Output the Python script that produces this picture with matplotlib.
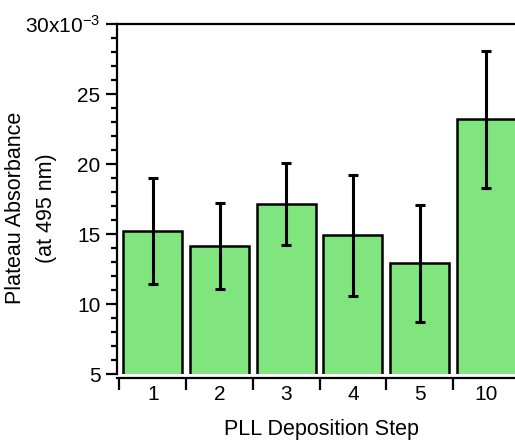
import matplotlib
matplotlib.use("Agg")
import matplotlib.pyplot as plt
import numpy as np
from matplotlib.ticker import FixedLocator, MultipleLocator

plt.rcParams['font.family'] = ['Liberation Sans', 'DejaVu Sans']
plt.rcParams['mathtext.fontset'] = 'custom'
plt.rcParams['mathtext.rm'] = 'Liberation Sans'
plt.rcParams['mathtext.it'] = 'Liberation Sans'

categories = ["1", "2", "3", "4", "5", "10"]
values = [15.2, 14.15, 17.15, 14.9, 12.9, 23.2]      # x10^-3
errors = [3.8, 3.1, 2.95, 4.3, 4.2, 4.9]             # x10^-3
ytick_vals = [5, 10, 15, 20, 25, 30]
ytick_labels = ["5", "10", "15", "20", "25", "30x10$^{-3}$"]

W, H = 515, 441
fig = plt.figure(figsize=(W/100, H/100), dpi=100)
left_px, right_px, top_px, bot_px = 117, 519.7, 24, 374
ax = fig.add_axes([left_px/W, 1 - bot_px/H, (right_px-left_px)/W, (bot_px-top_px)/H])

x = np.arange(len(categories))
ax.bar(x, values, width=0.885, color="#80E57F", edgecolor="black", linewidth=1.8, zorder=2)
ax.errorbar(x, values, yerr=errors, fmt="none", ecolor="black", elinewidth=2.2,
            capsize=3.8, capthick=2.2, zorder=3)

ax.set_xlim(-0.537, 5.5)
ax.set_ylim(5, 30)

ax.xaxis.set_major_locator(FixedLocator(np.arange(-0.5, 6.0, 1.0)))
ax.xaxis.set_minor_locator(FixedLocator(x))
ax.set_xticklabels([])
ax.set_xticklabels(categories, minor=True)
ax.tick_params(axis="x", which="major", direction="out", length=8.5, width=1.6)
ax.tick_params(axis="x", which="minor", length=0, pad=5, labelsize=15)

ax.yaxis.set_major_locator(FixedLocator(ytick_vals))
ax.set_yticklabels(ytick_labels)
ax.yaxis.set_minor_locator(MultipleLocator(1))
ax.tick_params(axis="y", which="major", direction="out", length=8, width=1.6, labelsize=15, pad=4)
ax.tick_params(axis="y", which="minor", direction="out", length=4.3, width=1.6)

for s in ["left", "bottom", "top", "right"]:
    ax.spines[s].set_linewidth(1.6)
ax.spines["bottom"].set_position(("outward", 3))

fig.text(31/W, 1 - 208/H, "Plateau Absorbance\n(at 495 nm)", rotation=90,
         ha="center", va="center", multialignment="center", fontsize=15.5, linespacing=1.6)
fig.text(322/W, 1 - 429/H, "PLL Deposition Step", ha="center", va="center", fontsize=15.5)

fig.savefig("out.png", dpi=100)
